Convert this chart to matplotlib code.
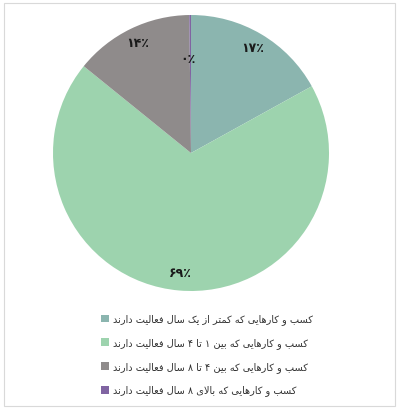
import matplotlib
matplotlib.use("Agg")
import matplotlib.pyplot as plt
from matplotlib.patches import Patch, Rectangle

labels = [
    "کسب و کارهایی که کمتر از یک سال فعالیت دارند",
    "کسب و کارهایی که بین ۱ تا ۴ سال فعالیت دارند",
    "کسب و کارهایی که بین ۴ تا ۸ سال فعالیت دارند",
    "کسب و کارهایی که بالای ۸ سال فعالیت دارند",
]
shares = [17, 69, 14, 0.2]
colors = ["#8bb5af", "#9dd3ae", "#8f8b8b", "#8064a2"]

# arabic presentation forms: isolated, final, initial, medial
FORMS = {
    "ا": (0xFE8D, 0xFE8E, None, None),
    "ب": (0xFE8F, 0xFE90, 0xFE91, 0xFE92),
    "ت": (0xFE95, 0xFE96, 0xFE97, 0xFE98),
    "د": (0xFEA9, 0xFEAA, None, None),
    "ر": (0xFEAD, 0xFEAE, None, None),
    "ز": (0xFEAF, 0xFEB0, None, None),
    "س": (0xFEB1, 0xFEB2, 0xFEB3, 0xFEB4),
    "ع": (0xFEC9, 0xFECA, 0xFECB, 0xFECC),
    "ف": (0xFED1, 0xFED2, 0xFED3, 0xFED4),
    "ل": (0xFEDD, 0xFEDE, 0xFEDF, 0xFEE0),
    "م": (0xFEE1, 0xFEE2, 0xFEE3, 0xFEE4),
    "ن": (0xFEE5, 0xFEE6, 0xFEE7, 0xFEE8),
    "ه": (0xFEE9, 0xFEEA, 0xFEEB, 0xFEEC),
    "و": (0xFEED, 0xFEEE, None, None),
    "ک": (0xFB8E, 0xFB8F, 0xFB90, 0xFB91),
    "ی": (0xFBFC, 0xFBFD, 0xFBFE, 0xFBFF),
}


def shape(text):
    out = []
    i = 0
    n = len(text)
    while i < n:
        ch = text[i]
        if ch not in FORMS:
            out.append(ch)
            i += 1
            continue
        prev = text[i - 1] if i > 0 else ""
        nxt = text[i + 1] if i + 1 < n else ""
        join_prev = prev in FORMS and FORMS[prev][2] is not None
        if ch == "ل" and nxt == "ا":
            out.append(chr(0xFEFC if join_prev else 0xFEFB))
            i += 2
            continue
        f = FORMS[ch]
        join_next = f[2] is not None and nxt in FORMS
        if join_prev and join_next:
            c = f[3]
        elif join_prev:
            c = f[1]
        elif join_next:
            c = f[2]
        else:
            c = f[0]
        out.append(chr(c))
        i += 1
    return "".join(out)[::-1]


def fa_pct(p):
    digits = str(int(round(p)))
    return digits.translate(str.maketrans("0123456789", "۰۱۲۳۴۵۶۷۸۹")) + "٪"


plt.rcParams["font.family"] = ["DejaVu Sans"]

fig = plt.figure(figsize=(4.0, 4.11), dpi=100)
fig.patches.append(Rectangle((4 / 400, 1 - 406 / 411), 391 / 400, 403 / 411,
                             transform=fig.transFigure, fill=False,
                             edgecolor="#d9d9d9", linewidth=0.8))

ax = fig.add_axes([191 / 400 - 0.345, 1 - 153 / 411 - 138 / 411, 0.69, 276 / 411])
wedges, texts, autotexts = ax.pie(
    shares, colors=colors, startangle=90, counterclock=False,
    autopct=fa_pct, pctdistance=0.88,
    wedgeprops=dict(linewidth=0),
    textprops=dict(fontsize=9, fontweight="bold", color="#1a1a1a"),
)
# small slice label sits closer to the centre
x, y = autotexts[3].get_position()
autotexts[3].set_position((x * 0.68 / 0.88 - 0.02, y * 0.68 / 0.88))
ax.set_xlim(-1, 1)
ax.set_ylim(-1, 1)
ax.axis("off")

handles = [Patch(facecolor=c, edgecolor="none") for c in colors]
leg = fig.legend(handles, [shape(t) for t in labels], loc="upper left",
                 bbox_to_anchor=(96 / 400, 1 - 309 / 411), frameon=False,
                 fontsize=7, handlelength=0.85, handleheight=0.85,
                 handletextpad=0.4, labelspacing=1.33, borderpad=0)
for t in leg.get_texts():
    t.set_color("#333333")

fig.savefig("out.png", dpi=100)
